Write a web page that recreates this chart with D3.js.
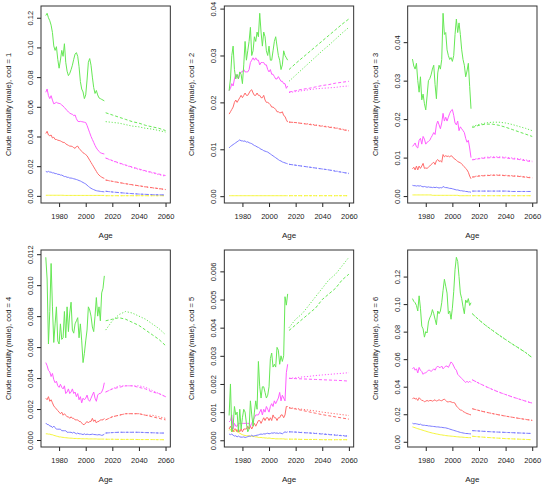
<!DOCTYPE html>
<html lang="en">
<head>
<meta charset="UTF-8">
<title>Crude mortality (male) by cause of death</title>
<script src="https://d3js.org/d3.v7.min.js"></script>
<style>
  body { margin: 0; background: #fff; }
  svg { font-family: "Liberation Sans", Arial, sans-serif; }
</style>
</head>
<body>
<div id="chart"></div>
<script>
// years: observed 1970-2014, projections every 5 years 2015-2060
var histYears = d3.range(1970, 2015);
var projYears = d3.range(2015, 2061, 5);
var xTicks = [1980, 2000, 2020, 2040, 2060];

// series order in every array below: yellow, blue, red, magenta, green
var seriesColours = ["#f5f53a", "#7b7bff", "#ff6b6b", "#ff5cff", "#66e855"];

// ---- cod = 1
var cod1Hist = [
  [0.0004,0.0004,0.0004,0.0004,0.0004,0.0004,0.0004,0.0004,0.0004,0.0004,
   0.0004,0.0004,0.0004,0.0004,0.0003,0.0003,0.0003,0.0003,0.0003,0.0003,
   0.0003,0.0003,0.0003,0.0003,0.0003,0.0003,0.0003,0.0003,0.0003,0.0003,
   0.0003,0.0003,0.0003,0.0003,0.0003,0.0003,0.0003,0.0003,0.0003,0.0003,
   0.0003,0.0003,0.0003,0.0003,0.0003],
  [0.0165,0.016,0.0165,0.016,0.016,0.0155,0.0155,0.015,0.015,0.0145,
   0.0145,0.014,0.014,0.0135,0.013,0.013,0.0125,0.0125,0.012,0.012,
   0.0118,0.0115,0.0113,0.011,0.0107,0.0103,0.010,0.0095,0.009,0.0085,
   0.008,0.0072,0.0064,0.0057,0.0051,0.0046,0.0042,0.0038,0.0035,0.0033,
   0.0032,0.003,0.0029,0.0028,0.0027],
  [0.042,0.0435,0.041,0.0405,0.041,0.039,0.0395,0.038,0.038,0.0375,
   0.0373,0.037,0.0365,0.036,0.036,0.035,0.0345,0.034,0.0335,0.0335,
   0.0332,0.0325,0.032,0.0332,0.0335,0.032,0.031,0.030,0.029,0.0285,
   0.0278,0.027,0.0255,0.024,0.0225,0.021,0.0195,0.018,0.0165,0.015,
   0.014,0.0132,0.0126,0.0121,0.0118],
  [0.0698,0.072,0.0675,0.0655,0.0675,0.0645,0.062,0.0625,0.063,0.0625,
   0.0623,0.062,0.0612,0.0605,0.0595,0.0585,0.0575,0.0565,0.0558,0.0552,
   0.055,0.054,0.0545,0.052,0.0503,0.050,0.0502,0.050,0.0498,0.0496,
   0.0494,0.0475,0.045,0.0425,0.040,0.038,0.036,0.034,0.0323,0.031,
   0.030,0.029,0.0287,0.0284,0.0282],
  [0.1215,0.123,0.120,0.118,0.115,0.110,0.101,0.098,0.1005,0.092,
   0.086,0.0915,0.098,0.094,0.1025,0.090,0.084,0.081,0.0825,0.085,
   0.088,0.092,0.0955,0.0965,0.094,0.087,0.077,0.072,0.070,0.0655,
   0.068,0.078,0.090,0.0925,0.088,0.080,0.073,0.069,0.071,0.068,
   0.066,0.0655,0.065,0.0645,0.064]
];
var cod1Dash = [
  [0.0001,0.0001,0.0001,0.0001,0.0001,0.0001,0.0001,0.0001,0.0001,0.0001],
  [0.0031,0.0026,0.0022,0.0018,0.0015,0.0012,0.001,0.0008,0.0007,0.0006],
  [0.0107,0.0098,0.009,0.0082,0.0075,0.0068,0.0061,0.0055,0.0049,0.0043],
  [0.0255,0.0238,0.0222,0.0208,0.0194,0.0181,0.0169,0.0158,0.0147,0.0137],
  [0.056,0.0545,0.053,0.0515,0.05,0.049,0.0475,0.0465,0.0455,0.044]
];
var cod1Dot = [
  [0.0001,0.0001,0.0001,0.0001,0.0001,0.0001,0.0001,0.0001,0.0001,0.0001],
  [0.0031,0.0026,0.0022,0.0018,0.0015,0.0012,0.001,0.0008,0.0007,0.0006],
  [0.0106,0.0097,0.0089,0.0081,0.0074,0.0067,0.006,0.0054,0.0048,0.0042],
  [0.0254,0.0236,0.022,0.0205,0.0191,0.0178,0.0166,0.0154,0.0143,0.0132],
  [0.050,0.0495,0.049,0.048,0.047,0.0465,0.0455,0.045,0.044,0.043]
];
var cod1Ticks = [0, 0.02, 0.04, 0.06, 0.08, 0.10, 0.12];

// ---- cod = 2
var cod2Hist = [
  [0.0001,0.0001,0.0001,0.0001,0.0001,0.0001,0.0001,0.0001,0.0001,0.0001,
   0.0001,0.0001,0.0001,0.0001,0.0001,0.0001,0.0001,0.0001,0.0001,0.0001,
   0.0001,0.0001,0.0001,0.0001,0.0001,0.0001,0.0001,0.0001,0.0001,0.0001,
   0.0001,0.0001,0.0001,0.0001,0.0001,0.0001,0.0001,0.0001,0.0001,0.0001,
   0.0001,0.0001,0.0001,0.0001,0.0001],
  [0.0103,0.0106,0.0108,0.011,0.0112,0.0114,0.0116,0.0118,0.012,0.0118,
   0.0118,0.0117,0.0118,0.0115,0.0116,0.0114,0.0113,0.0112,0.011,0.0108,
   0.0107,0.0105,0.0104,0.0102,0.010,0.0099,0.0097,0.0096,0.0095,0.0094,
   0.0092,0.009,0.0088,0.0086,0.0084,0.0082,0.008,0.0078,0.0076,0.0075,
   0.0073,0.0072,0.0071,0.007,0.0069],
  [0.0175,0.018,0.0185,0.019,0.020,0.0205,0.020,0.0205,0.021,0.0215,
   0.021,0.0215,0.022,0.0215,0.0215,0.022,0.0225,0.0227,0.022,0.0215,
   0.0215,0.022,0.0215,0.0215,0.021,0.021,0.0215,0.0205,0.020,0.020,
   0.0198,0.0195,0.019,0.019,0.0188,0.0185,0.018,0.018,0.0178,0.0178,
   0.018,0.0172,0.017,0.0163,0.0158],
  [0.0225,0.023,0.024,0.0235,0.025,0.026,0.0255,0.025,0.026,0.0265,
   0.0265,0.027,0.0265,0.0265,0.0265,0.027,0.0285,0.029,0.0295,0.029,
   0.0295,0.029,0.029,0.028,0.0285,0.0285,0.0285,0.028,0.028,0.027,
   0.0265,0.027,0.026,0.026,0.0255,0.025,0.025,0.0255,0.025,0.0245,
   0.0245,0.024,0.024,0.023,0.0235],
  [0.0225,0.025,0.030,0.032,0.027,0.025,0.026,0.025,0.0265,0.026,
   0.024,0.028,0.033,0.029,0.031,0.033,0.036,0.030,0.031,0.034,
   0.033,0.035,0.034,0.039,0.035,0.032,0.035,0.034,0.031,0.030,
   0.032,0.029,0.029,0.031,0.033,0.034,0.032,0.030,0.029,0.027,
   0.028,0.031,0.030,0.0295,0.029]
];
var cod2Dash = [
  [0.0001,0.0001,0.0001,0.0001,0.0001,0.0001,0.0001,0.0001,0.0001,0.0001],
  [0.0068,0.0066,0.0064,0.0062,0.006,0.0058,0.0056,0.0053,0.0051,0.0048],
  [0.0158,0.0157,0.0155,0.0153,0.0151,0.0149,0.0147,0.0145,0.0142,0.0139],
  [0.0222,0.0225,0.0228,0.023,0.0233,0.0236,0.0238,0.0241,0.0243,0.0245],
  [0.027,0.0283,0.0295,0.0307,0.0319,0.0331,0.0343,0.0355,0.0367,0.0378]
];
var cod2Dot = [
  [0.0001,0.0001,0.0001,0.0001,0.0001,0.0001,0.0001,0.0001,0.0001,0.0001],
  [0.0068,0.0066,0.0064,0.0062,0.006,0.0058,0.0056,0.0054,0.0051,0.0049],
  [0.0158,0.0157,0.0155,0.0154,0.0152,0.015,0.0148,0.0146,0.0143,0.014],
  [0.0221,0.0223,0.0225,0.0227,0.0229,0.023,0.0231,0.0232,0.0234,0.0235],
  [0.0245,0.0258,0.0271,0.0284,0.0297,0.031,0.0322,0.0335,0.0348,0.036]
];
var cod2Ticks = [0, 0.01, 0.02, 0.03, 0.04];

// ---- cod = 3
var cod3Hist = [
  [0.0003,0.0003,0.0003,0.0003,0.0003,0.0003,0.0003,0.0003,0.0003,0.0003,
   0.0003,0.0003,0.0003,0.0003,0.0003,0.0002,0.0002,0.0002,0.0002,0.0002,
   0.0002,0.0002,0.0002,0.0002,0.0002,0.0002,0.0002,0.0002,0.0002,0.0002,
   0.0002,0.0002,0.0002,0.0002,0.0002,0.0001,0.0001,0.0001,0.0001,0.0001,
   0.0001,0.0001,0.0001,0.0001,0.0001],
  [0.0028,0.0027,0.0027,0.0026,0.0027,0.0026,0.0027,0.0025,0.0024,0.0025,
   0.0024,0.0023,0.0024,0.0023,0.0023,0.0022,0.0023,0.0022,0.0023,0.0022,
   0.0021,0.0022,0.0021,0.0025,0.0023,0.0022,0.0022,0.0021,0.002,0.002,
   0.0019,0.0018,0.0017,0.0016,0.0016,0.0015,0.0014,0.0014,0.0013,0.0013,
   0.0012,0.0012,0.0011,0.0011,0.001],
  [0.0071,0.0075,0.0068,0.0078,0.0068,0.0078,0.0072,0.0078,0.0085,0.0072,
   0.0073,0.0072,0.0075,0.0078,0.0082,0.0085,0.0088,0.0082,0.0092,0.0095,
   0.009,0.0092,0.0088,0.0108,0.0102,0.0105,0.0103,0.0104,0.0102,0.0105,
   0.0103,0.0098,0.0096,0.0093,0.009,0.0088,0.0087,0.0083,0.008,0.0076,
   0.0072,0.0068,0.0062,0.0052,0.0045],
  [0.0129,0.0133,0.0138,0.0128,0.0125,0.0145,0.015,0.0135,0.0155,0.0148,
   0.0135,0.014,0.0142,0.0145,0.0152,0.0158,0.0165,0.016,0.0185,0.0195,
   0.0185,0.0175,0.019,0.0215,0.0195,0.0205,0.0195,0.0205,0.0215,0.0222,
   0.0225,0.021,0.019,0.0185,0.0195,0.017,0.018,0.0175,0.017,0.0165,
   0.015,0.014,0.0145,0.0125,0.010],
  [0.0356,0.0338,0.033,0.0345,0.030,0.027,0.031,0.025,0.0265,0.024,
   0.0224,0.026,0.030,0.0305,0.0315,0.033,0.034,0.029,0.0253,0.032,
   0.034,0.033,0.0355,0.0475,0.042,0.0425,0.038,0.0365,0.0355,0.036,
   0.035,0.0365,0.042,0.046,0.0425,0.045,0.042,0.038,0.0355,0.034,
   0.031,0.0325,0.0345,0.0285,0.0227]
];
var cod3Dash = [
  [0.0001,0.0001,0.0001,0.0001,0.0001,0.0001,0.0001,0.0001,0.0001,0.0001],
  [0.0013,0.0013,0.0013,0.0013,0.0013,0.0013,0.0012,0.0012,0.0012,0.0012],
  [0.0049,0.0052,0.0053,0.0054,0.0054,0.0053,0.0052,0.0051,0.0049,0.0047],
  [0.0094,0.0097,0.0099,0.010,0.010,0.0099,0.0097,0.0095,0.0092,0.0089],
  [0.0178,0.0184,0.0187,0.0187,0.0184,0.0179,0.0173,0.0167,0.0161,0.0155]
];
var cod3Dot = [
  [0.0001,0.0001,0.0001,0.0001,0.0001,0.0001,0.0001,0.0001,0.0001,0.0001],
  [0.0013,0.0013,0.0013,0.0013,0.0013,0.0013,0.0012,0.0012,0.0012,0.0012],
  [0.005,0.0053,0.0054,0.0055,0.0055,0.0054,0.0053,0.0052,0.005,0.0048],
  [0.0095,0.0098,0.0101,0.0102,0.0102,0.0101,0.0099,0.0097,0.0094,0.0091],
  [0.0181,0.0186,0.019,0.0192,0.0192,0.019,0.0186,0.0181,0.0176,0.017]
];
var cod3Ticks = [0, 0.01, 0.02, 0.03, 0.04];

// ---- cod = 4
var cod4Hist = [
  [0.0004,0.0004,0.00038,0.00038,0.00035,0.00034,0.0003,0.00028,0.00025,0.00023,
   0.0002,0.0002,0.00018,0.00017,0.00016,0.00015,0.00014,0.00013,0.00012,0.00012,
   0.00011,0.0001,0.0001,0.0001,0.00009,0.00009,0.00009,0.00008,0.00008,0.00008,
   0.00008,0.00008,0.00007,0.00007,0.00007,0.00007,0.00007,0.00007,0.00007,0.00006,
   0.00006,0.00006,0.00006,0.00006,0.00006],
  [0.0011,0.001,0.001,0.0009,0.0009,0.0008,0.0009,0.0008,0.0007,0.0007,
   0.0007,0.0007,0.0006,0.0006,0.0006,0.0006,0.0005,0.0005,0.0005,0.0005,
   0.00045,0.0005,0.00045,0.0004,0.00045,0.0004,0.0004,0.00038,0.00035,0.0004,
   0.00035,0.00038,0.00036,0.00035,0.00036,0.00038,0.00036,0.00035,0.00034,0.00033,
   0.00035,0.00033,0.0003,0.00032,0.00038],
  [0.0027,0.0026,0.0028,0.0025,0.0026,0.0024,0.0022,0.0021,0.002,0.0019,
   0.0018,0.0017,0.0018,0.0016,0.0017,0.0016,0.0015,0.0015,0.0014,0.0015,
   0.0014,0.0014,0.0013,0.0013,0.0013,0.0012,0.0012,0.0011,0.001,0.001,
   0.0011,0.0012,0.0011,0.0012,0.0012,0.0014,0.0012,0.0013,0.0011,0.0012,
   0.0012,0.0013,0.0013,0.0013,0.0014],
  [0.005,0.0048,0.0045,0.0044,0.0041,0.0043,0.0039,0.0037,0.0038,0.0035,
   0.0034,0.0036,0.0034,0.0033,0.0035,0.003,0.0031,0.0033,0.003,0.0031,
   0.0033,0.003,0.0031,0.0028,0.003,0.0026,0.0028,0.0024,0.0027,0.0026,
   0.0027,0.0029,0.0026,0.0025,0.0027,0.0029,0.0031,0.0027,0.0025,0.0029,
   0.003,0.003,0.0031,0.0033,0.0037],
  [0.0118,0.0104,0.0062,0.0083,0.0114,0.0086,0.0063,0.0075,0.0086,0.0064,
   0.0062,0.0075,0.0065,0.0066,0.0083,0.0066,0.0086,0.007,0.0082,0.0089,
   0.0071,0.0069,0.0075,0.0077,0.0079,0.0066,0.0075,0.0064,0.005,0.0056,
   0.0064,0.0071,0.0086,0.0084,0.008,0.0073,0.007,0.008,0.0092,0.008,
   0.0086,0.0077,0.0095,0.0098,0.0106]
];
var cod4Dash = [
  [0.00005,0.00005,0.00004,0.00004,0.00004,0.00003,0.00003,0.00003,0.00002,0.00002],
  [0.00045,0.00048,0.0005,0.0005,0.0005,0.0005,0.00048,0.00047,0.00045,0.00045],
  [0.0013,0.0015,0.0016,0.0017,0.0017,0.0017,0.0016,0.0015,0.0014,0.0013],
  [0.0031,0.0033,0.0034,0.0035,0.0035,0.0034,0.0033,0.0031,0.003,0.0028],
  [0.0077,0.0078,0.0079,0.0078,0.0076,0.0074,0.0071,0.0068,0.0065,0.0061]
];
var cod4Dot = [
  [0.00005,0.00005,0.00004,0.00004,0.00004,0.00003,0.00003,0.00003,0.00002,0.00002],
  [0.00045,0.00048,0.0005,0.0005,0.0005,0.0005,0.00048,0.00047,0.00045,0.00045],
  [0.0013,0.0015,0.0016,0.0017,0.0017,0.0017,0.0016,0.0016,0.0015,0.0014],
  [0.0031,0.0033,0.0035,0.0035,0.0035,0.0035,0.0034,0.0032,0.003,0.0028],
  [0.0071,0.0077,0.0081,0.0083,0.0082,0.008,0.0078,0.0075,0.0072,0.0068]
];
var cod4Ticks = [0, 0.002, 0.004, 0.006, 0.008, 0.010, 0.012];

// ---- cod = 5
var cod5Hist = [
  [0.00035,0.0004,0.0003,0.00035,0.0003,0.00038,0.0003,0.00028,0.00025,0.00022,
   0.0002,0.00018,0.00017,0.00016,0.00016,0.00015,0.00015,0.00014,0.00014,0.00013,
   0.00012,0.00012,0.0001,0.0001,0.0001,0.00009,0.00009,0.00008,0.00008,0.00007,
   0.00008,0.00007,0.00006,0.00006,0.00006,0.00005,0.00005,0.00005,0.00005,0.00005,
   0.00005,0.00005,0.00004,0.00004,0.00004],
  [0.00022,0.0002,0.00022,0.00018,0.00015,0.00016,0.00012,0.00015,0.00012,0.00011,
   0.00011,0.00012,0.0001,0.00011,0.00013,0.00015,0.00014,0.00018,0.00014,0.00016,
   0.00017,0.00018,0.00019,0.00021,0.00022,0.00021,0.00023,0.00022,0.00024,0.00025,
   0.00023,0.00024,0.00026,0.00025,0.00027,0.00025,0.00026,0.00024,0.00026,0.00025,
   0.00023,0.00027,0.0003,0.00028,0.0003],
  [0.0004,0.0005,0.0004,0.0003,0.0004,0.0004,0.0003,0.0004,0.0003,0.0004,
   0.0003,0.0004,0.0004,0.0004,0.0005,0.0004,0.0005,0.0004,0.0005,0.0006,
   0.0005,0.0006,0.0007,0.0007,0.0006,0.0007,0.0008,0.0007,0.0008,0.0008,
   0.0007,0.0008,0.0007,0.0009,0.0008,0.0008,0.0007,0.0008,0.0008,0.0009,
   0.0009,0.0008,0.0009,0.0012,0.0012],
  [0.00065,0.0007,0.0009,0.0004,0.0006,0.0005,0.0005,0.0006,0.0006,0.0006,
   0.0006,0.0006,0.0006,0.0006,0.0006,0.0006,0.0005,0.0006,0.0007,0.0008,
   0.0009,0.0009,0.0009,0.001,0.0011,0.0009,0.0011,0.001,0.0012,0.0011,
   0.001,0.0012,0.0013,0.0012,0.0014,0.0013,0.0014,0.0015,0.0017,0.0014,
   0.0016,0.0015,0.0014,0.0024,0.0027],
  [0.00088,0.002,0.0003,0.0005,0.0012,0.0009,0.001,0.0003,0.0011,0.0004,
   0.0008,0.0011,0.001,0.0006,0.0003,0.0004,0.0014,0.0009,0.0005,0.001,
   0.0014,0.0011,0.0028,0.0019,0.0015,0.0019,0.0019,0.0017,0.0015,0.0016,
   0.0019,0.0029,0.0031,0.0026,0.0027,0.0026,0.0033,0.0032,0.0027,0.003,
   0.0028,0.003,0.0051,0.0048,0.0052]
];
var cod5Dash = [
  [0.00004,0.00004,0.00003,0.00003,0.00003,0.00002,0.00002,0.00002,0.00002,0.00002],
  [0.0003,0.00029,0.00027,0.00026,0.00024,0.00022,0.0002,0.00018,0.00016,0.00014],
  [0.00115,0.00111,0.00106,0.00101,0.00096,0.00091,0.00087,0.00083,0.00079,0.00075],
  [0.0022,0.00219,0.00218,0.00217,0.00216,0.00215,0.00214,0.00213,0.00212,0.0021],
  [0.0039,0.0041,0.0043,0.0045,0.0047,0.005,0.0052,0.0054,0.0057,0.0059]
];
var cod5Dot = [
  [0.00004,0.00004,0.00003,0.00003,0.00003,0.00002,0.00002,0.00002,0.00002,0.00002],
  [0.0003,0.00029,0.00028,0.00026,0.00025,0.00023,0.00021,0.00019,0.00017,0.00015],
  [0.00116,0.00113,0.0011,0.00107,0.00104,0.001,0.00097,0.00094,0.00091,0.00088],
  [0.0022,0.00222,0.00225,0.00227,0.0023,0.00232,0.00234,0.00236,0.00238,0.0024],
  [0.004,0.0043,0.0045,0.0048,0.0051,0.0054,0.0057,0.0059,0.0062,0.0065]
];
var cod5Ticks = [0, 0.001, 0.002, 0.003, 0.004, 0.005, 0.006];

// ---- cod = 6
var cod6Hist = [
  [0.0108,0.0105,0.0102,0.0098,0.0095,0.0092,0.0089,0.0086,0.0083,0.008,
   0.0077,0.0074,0.0071,0.0068,0.0066,0.0063,0.0061,0.0059,0.0057,0.0055,
   0.0053,0.0051,0.005,0.0048,0.0047,0.0045,0.0044,0.0043,0.0042,0.0041,
   0.004,0.0039,0.0038,0.0037,0.0036,0.0035,0.0034,0.0034,0.0033,0.0032,
   0.0031,0.0031,0.003,0.003,0.0029],
  [0.0135,0.013,0.0132,0.013,0.0128,0.0125,0.0128,0.0122,0.012,0.012,
   0.0118,0.0118,0.0115,0.0115,0.0113,0.0112,0.0111,0.011,0.0108,0.0108,
   0.0107,0.0105,0.0105,0.0103,0.0102,0.0101,0.0098,0.0096,0.0092,0.0089,
   0.0086,0.0083,0.008,0.0077,0.0074,0.0071,0.0068,0.0066,0.0064,0.0062,
   0.006,0.006,0.0059,0.0058,0.0057],
  [0.031,0.032,0.031,0.0315,0.030,0.032,0.031,0.030,0.030,0.029,
   0.0295,0.030,0.0295,0.030,0.030,0.0295,0.030,0.0305,0.0295,0.030,
   0.0305,0.030,0.0298,0.0305,0.031,0.030,0.029,0.029,0.0292,0.029,
   0.0285,0.0285,0.028,0.026,0.025,0.024,0.023,0.023,0.022,0.0215,
   0.021,0.0205,0.0202,0.0198,0.0195],
  [0.053,0.054,0.052,0.053,0.050,0.054,0.052,0.051,0.049,0.050,
   0.050,0.051,0.052,0.052,0.051,0.052,0.053,0.052,0.054,0.055,
   0.054,0.054,0.055,0.053,0.054,0.055,0.055,0.054,0.056,0.058,
   0.057,0.055,0.053,0.052,0.049,0.048,0.047,0.046,0.045,0.044,
   0.043,0.044,0.043,0.044,0.043],
  [0.104,0.102,0.101,0.099,0.095,0.106,0.097,0.084,0.082,0.076,
   0.080,0.079,0.087,0.090,0.092,0.096,0.093,0.089,0.085,0.095,
   0.093,0.095,0.101,0.110,0.118,0.113,0.108,0.093,0.095,0.089,
   0.097,0.109,0.125,0.134,0.131,0.120,0.108,0.104,0.098,0.093,
   0.103,0.101,0.104,0.099,0.101]
];
var cod6Dash = [
  [0.004,0.0036,0.0032,0.0029,0.0026,0.0023,0.0021,0.0019,0.0017,0.0015],
  [0.0081,0.0078,0.0075,0.0072,0.007,0.0068,0.0066,0.0064,0.0062,0.006],
  [0.024,0.0227,0.0215,0.0205,0.0195,0.0186,0.0178,0.017,0.0162,0.0155],
  [0.045,0.0425,0.0402,0.038,0.036,0.0343,0.0326,0.031,0.0295,0.028],
  [0.093,0.0885,0.0845,0.081,0.0775,0.0742,0.071,0.068,0.0648,0.061]
];
var cod6Dot = [
  [0.004,0.0036,0.0032,0.0029,0.0026,0.0023,0.0021,0.0019,0.0017,0.0015],
  [0.0081,0.0078,0.0075,0.0072,0.007,0.0068,0.0066,0.0064,0.0062,0.006],
  [0.024,0.0227,0.0216,0.0205,0.0196,0.0187,0.0178,0.017,0.0163,0.0156],
  [0.045,0.0425,0.0402,0.0381,0.0361,0.0343,0.0326,0.0311,0.0296,0.0281],
  [0.093,0.0886,0.0846,0.081,0.0776,0.0743,0.0711,0.068,0.0649,0.0612]
];
var cod6Ticks = [0, 0.02, 0.04, 0.06, 0.08, 0.10, 0.12];

var panels = [
  {cod: 1, hist: cod1Hist, dash: cod1Dash, dot: cod1Dot, ticks: cod1Ticks, fmt: ".2f"},
  {cod: 2, hist: cod2Hist, dash: cod2Dash, dot: cod2Dot, ticks: cod2Ticks, fmt: ".2f"},
  {cod: 3, hist: cod3Hist, dash: cod3Dash, dot: cod3Dot, ticks: cod3Ticks, fmt: ".2f"},
  {cod: 4, hist: cod4Hist, dash: cod4Dash, dot: cod4Dot, ticks: cod4Ticks, fmt: ".3f"},
  {cod: 5, hist: cod5Hist, dash: cod5Dash, dot: cod5Dot, ticks: cod5Ticks, fmt: ".3f"},
  {cod: 6, hist: cod6Hist, dash: cod6Dash, dot: cod6Dot, ticks: cod6Ticks, fmt: ".2f"}
];

var cellW = 550 / 3, cellH = 244;
var margin = {top: 6, right: 13, bottom: 41, left: 41},
    width = cellW - margin.left - margin.right,
    height = cellH - margin.top - margin.bottom;

var svg = d3.select("#chart")
    .append("svg")
    .attr("width", 550)
    .attr("height", 488);

// R style axis: range padded by 4% on each side
var x = d3.scaleLinear()
    .domain([1970 - 0.04 * 90, 2060 + 0.04 * 90])
    .range([0, width]);

panels.forEach(function (p, k) {
    var col = k % 3, row = Math.floor(k / 3);
    var g = svg.append("g")
        .attr("transform", "translate(" + (col * cellW + margin.left) + "," + (row * cellH + margin.top) + ")");

    var all = d3.merge([d3.merge(p.hist), d3.merge(p.dash), d3.merge(p.dot)]);
    var lo = d3.min(all), hi = d3.max(all), pad = (hi - lo) * 0.04;
    var y = d3.scaleLinear().domain([lo - pad, hi + pad]).range([height, 0]);

    // X axis
    var xa = g.append("g")
        .attr("transform", "translate(0," + height + ")")
        .call(d3.axisBottom(x).tickValues(xTicks).tickFormat(d3.format("d")).tickSize(4).tickPadding(7));
    xa.select(".domain").remove();
    xa.attr("font-size", 7.5).attr("font-family", null).attr("color", "#222");

    // Y axis, labels turned like R's las = 0
    var ya = g.append("g")
        .call(d3.axisLeft(y).tickValues(p.ticks).tickFormat(d3.format(p.fmt)).tickSize(4));
    ya.select(".domain").remove();
    ya.attr("font-size", 7.5).attr("font-family", null).attr("color", "#222");
    ya.selectAll("text")
        .attr("transform", "rotate(-90)")
        .attr("x", 0)
        .attr("y", -8)
        .attr("dy", null)
        .attr("text-anchor", "middle");

    // lines
    function lineFor(years) {
        return d3.line()
            .x(function (d, i) { return x(years[i]); })
            .y(function (d) { return y(d); });
    }
    p.hist.forEach(function (s, i) {
        g.append("path").datum(s)
            .attr("fill", "none").attr("stroke", seriesColours[i]).attr("stroke-width", 1)
            .attr("d", lineFor(histYears));
        g.append("path").datum(p.dash[i])
            .attr("fill", "none").attr("stroke", seriesColours[i]).attr("stroke-width", 1)
            .attr("stroke-dasharray", "3,2")
            .attr("d", lineFor(projYears));
        g.append("path").datum(p.dot[i])
            .attr("fill", "none").attr("stroke", seriesColours[i]).attr("stroke-width", 1)
            .attr("stroke-dasharray", "1.2,1.8")
            .attr("d", lineFor(projYears));
    });

    // frame
    g.append("rect")
        .attr("width", width).attr("height", height)
        .attr("fill", "none").attr("stroke", "#333").attr("stroke-width", 1);

    // titles
    g.append("text")
        .attr("x", width / 2).attr("y", height + 35)
        .attr("text-anchor", "middle").attr("font-size", 8).attr("fill", "#222")
        .text("Age");
    g.append("text")
        .attr("transform", "translate(-30," + (height / 2) + ") rotate(-90)")
        .attr("text-anchor", "middle").attr("font-size", 7.5).attr("fill", "#222")
        .text("Crude mortality (male), cod = " + p.cod);
});
</script>
</body>
</html>
